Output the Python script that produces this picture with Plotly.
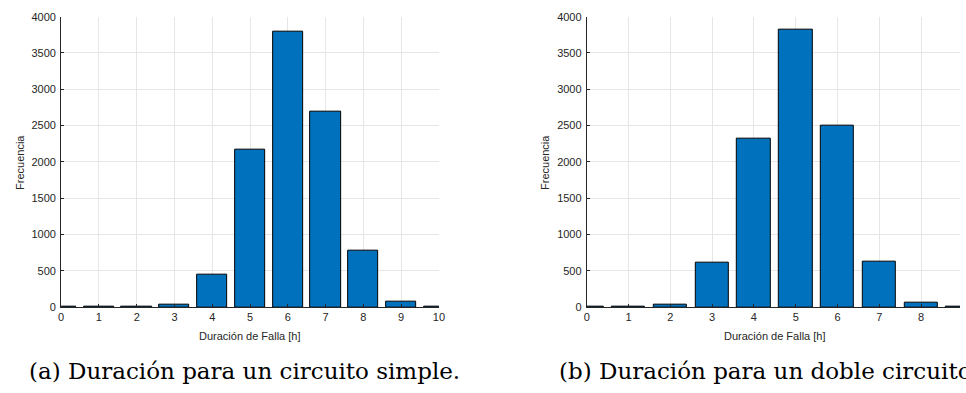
import plotly.graph_objects as go

# Data
bins_a = [0, 1, 2, 3, 4, 5, 6, 7, 8, 9, 10]
freq_a = [8, 2, 3, 40, 455, 2173, 3795, 2690, 773, 72, 10]
bins_b = [0, 1, 2, 3, 4, 5, 6, 7, 8, 9]
freq_b = [1, 4, 35, 615, 2325, 3815, 2505, 628, 62, 5]

xticks_a = list(range(0, 11))
xticks_b = list(range(0, 10))
yticks = [0, 500, 1000, 1500, 2000, 2500, 3000, 3500, 4000]

caption_a = "(a) Duración para un circuito simple."
caption_b = "(b) Duración para un doble circuito."
xlabel = "Duración de Falla [h]"
ylabel = "Frecuencia"

W, H = 966, 393
BAR = "#0072BD"
AX = "#262626"
GRID = "#e6e6e6"
TICKFONT = dict(family="Liberation Sans, Arial, sans-serif", size=11, color=AX)

def px(x):
    return x / W

def py(y):
    return 1 - y / H

fig = go.Figure()
fig.add_trace(go.Bar(x=bins_a, y=freq_a, width=0.8, marker=dict(color=BAR, line=dict(color="black", width=1)),
                     xaxis="x", yaxis="y", showlegend=False))
fig.add_trace(go.Bar(x=bins_b, y=freq_b, width=0.8, marker=dict(color=BAR, line=dict(color="black", width=1)),
                     xaxis="x2", yaxis="y2", showlegend=False))

top, bot = 11, 310.7
la, ra = 58.7, 440.0
lb = 589.3
unit_b = 42.17
rb_range = (W - lb) / unit_b

common_x = dict(showline=True, linecolor=AX, linewidth=1, ticks="inside", ticklen=3, tickcolor=AX,
                showgrid=True, gridcolor=GRID, gridwidth=1, zeroline=False, tickfont=TICKFONT,
                mirror=False, fixedrange=True)
common_y = dict(showline=True, linecolor=AX, linewidth=1, ticks="inside", ticklen=3, tickcolor=AX,
                showgrid=True, gridcolor=GRID, gridwidth=1, zeroline=False, tickfont=TICKFONT,
                range=[0, 4000], tickvals=yticks, mirror=False, fixedrange=True, ticklabelstandoff=2)

fig.update_layout(
    width=W, height=H, margin=dict(l=0, r=0, t=0, b=0),
    paper_bgcolor="white", plot_bgcolor="white", bargap=0,
    xaxis=dict(domain=[px(la), px(ra)], range=[0, 10], tickvals=xticks_a, anchor="y", **common_x),
    yaxis=dict(domain=[py(bot), py(top)], anchor="x", **common_y),
    xaxis2=dict(domain=[px(lb), 1], range=[0, rb_range], tickvals=xticks_b, anchor="y2", **common_x),
    yaxis2=dict(domain=[py(bot), py(top)], anchor="x2", **common_y),
)

annot_font = dict(family="Liberation Sans, Arial, sans-serif", size=11, color=AX)
cap_font = dict(family="DejaVu Serif, serif", size=23, color="black")
fig.add_annotation(x=px(249.5), y=py(340), xref="paper", yref="paper", text=xlabel, showarrow=False,
                   font=annot_font, xanchor="center", yanchor="middle")
fig.add_annotation(x=px(779), y=py(340), xref="paper", yref="paper", text=xlabel, showarrow=False,
                   font=annot_font, xanchor="center", yanchor="middle")
fig.add_annotation(x=px(17), y=py(161), xref="paper", yref="paper", text=ylabel, showarrow=False,
                   font=annot_font, textangle=-90, xanchor="center", yanchor="middle")
fig.add_annotation(x=px(547), y=py(161), xref="paper", yref="paper", text=ylabel, showarrow=False,
                   font=annot_font, textangle=-90, xanchor="center", yanchor="middle")
fig.add_annotation(x=px(24), y=py(377), xref="paper", yref="paper", text=caption_a, showarrow=False,
                   font=cap_font, xanchor="left", yanchor="middle")
fig.add_annotation(x=px(559), y=py(377), xref="paper", yref="paper", text=caption_b, showarrow=False,
                   font=cap_font, xanchor="left", yanchor="middle")

fig.write_html("out.html")
